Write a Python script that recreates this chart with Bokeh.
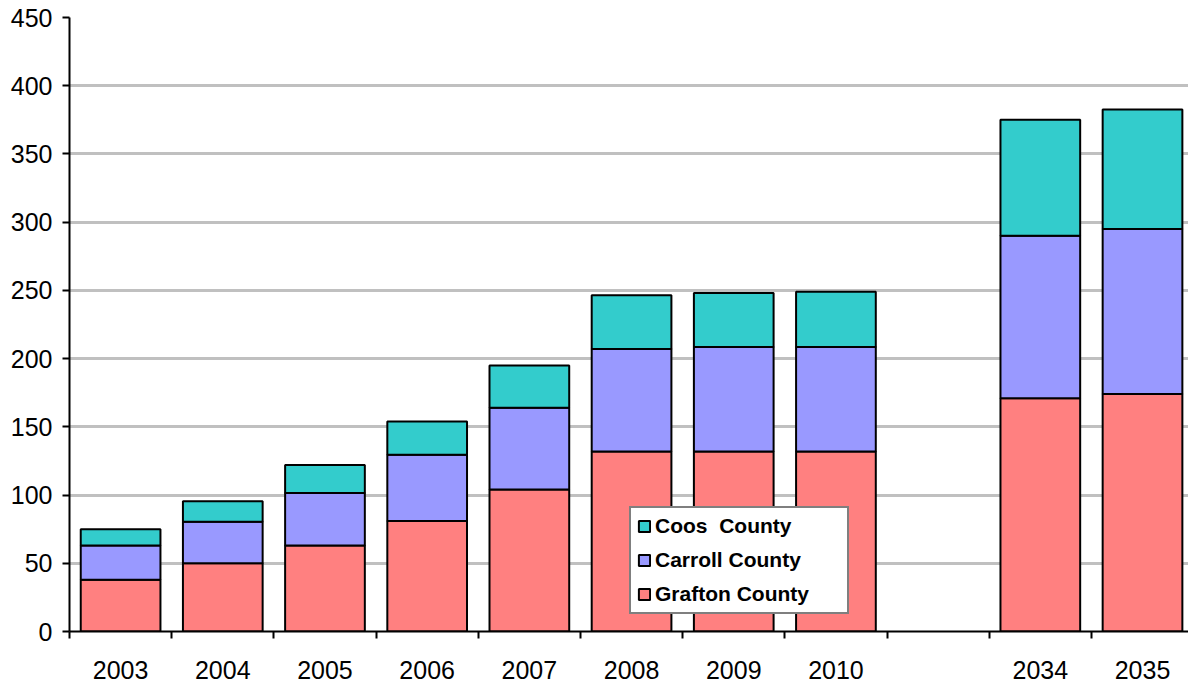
import numpy as np
from bokeh.plotting import figure
from bokeh.models import (Range1d, FixedTicker, Legend, LegendItem, Grid,
                          ColumnDataSource)
from bokeh.embed import file_html
from bokeh.resources import INLINE

# ---- data ----
categories = ["2003", "2004", "2005", "2006", "2007", "2008", "2009", "2010", "", "2034", "2035"]
grafton = [38, 50, 63, 81, 104, 132, 132, 132, np.nan, 171, 174]
carroll = [25, 30.5, 38.5, 48.5, 60, 75, 76.5, 76.5, np.nan, 119, 121]
coos = [12, 15, 20.5, 24.5, 31, 39.5, 39.5, 40.5, np.nan, 85, 87.5]
series_keys = ["grafton", "carroll", "coos"]
series_names = ["Grafton County", "Carroll County", "Coos  County"]
colors = ["#FF8080", "#9999FF", "#33CCCC"]
y_ticks = [0, 50, 100, 150, 200, 250, 300, 350, 400, 450]

FONT = "Liberation Sans"

slots = np.arange(len(categories))
centers = slots + 0.5
source = ColumnDataSource(dict(x=centers, grafton=grafton, carroll=carroll, coos=coos))

p = figure(width=1188, height=684, output_backend="svg", toolbar_location=None,
           x_range=Range1d(0, 10.95), y_range=Range1d(0, 450),
           min_border_left=69, min_border_right=0, min_border_top=17, min_border_bottom=53)
p.outline_line_color = None
p.background_fill_color = "white"

renderers = p.vbar_stack(series_keys, x="x", width=0.78, source=source,
                         fill_color=colors, line_color="black", line_width=2)

# grids
p.xgrid.visible = False
p.ygrid.ticker = FixedTicker(ticks=y_ticks[1:-1])
p.ygrid.grid_line_color = "#C0C0C0"
p.ygrid.grid_line_width = 3
top_grid = Grid(dimension=1, ticker=FixedTicker(ticks=y_ticks[-1:]),
                grid_line_color="#808080", grid_line_width=3)
p.add_layout(top_grid)

# y axis
yax = p.yaxis[0]
yax.ticker = FixedTicker(ticks=y_ticks)
yax.axis_line_width = 2
yax.axis_line_color = "black"
yax.major_tick_out = 7
yax.major_tick_in = 0
yax.major_tick_line_width = 2
yax.major_tick_line_color = "black"
yax.minor_tick_line_color = None
yax.major_label_text_font = FONT
yax.major_label_text_font_size = "25px"
yax.major_label_text_color = "black"
yax.major_label_standoff = 10

# x axis: labels at slot centers, tick marks at slot boundaries
label_ticks = [float(c) for c, name in zip(centers, categories) if name]
xax = p.xaxis[0]
xax.ticker = FixedTicker(ticks=label_ticks, minor_ticks=[float(s) for s in slots])
xax.major_label_overrides = {float(c): name for c, name in zip(centers, categories) if name}
xax.axis_line_width = 2
xax.axis_line_color = "black"
xax.major_tick_out = 0
xax.major_tick_in = 0
xax.minor_tick_out = 7
xax.minor_tick_in = 0
xax.minor_tick_line_width = 2
xax.minor_tick_line_color = "black"
xax.major_label_text_font = FONT
xax.major_label_text_font_size = "25px"
xax.major_label_text_color = "black"
xax.major_label_standoff = 22

# legend (reverse order: top series first)
items = [LegendItem(label=series_names[i], renderers=[renderers[i]]) for i in (2, 1, 0)]
legend = Legend(items=items, location=(560, 17), orientation="vertical",
                label_text_font=FONT, label_text_font_style="bold",
                label_text_font_size="21px", label_text_color="black",
                glyph_width=14, glyph_height=14, label_standoff=4,
                label_width=186,
                padding=6, spacing=10, margin=0,
                border_line_color="black", border_line_width=2,
                background_fill_color="white", background_fill_alpha=1.0)
p.add_layout(legend)

open("out.html", "w").write(file_html(p, INLINE))
